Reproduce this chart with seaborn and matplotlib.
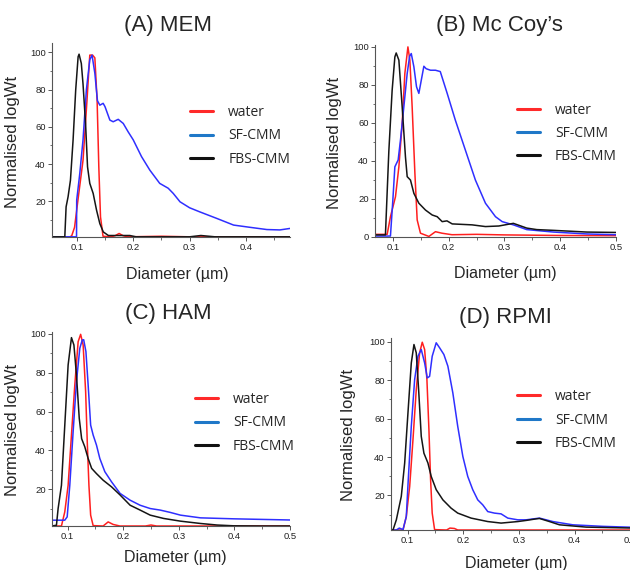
import numpy as np
import pandas as pd
import matplotlib
matplotlib.use("Agg")
from matplotlib import pyplot as plt
from matplotlib.lines import Line2D
from matplotlib.ticker import MultipleLocator
import seaborn as sns

# Curves (diameter in um, normalised logWt)

# (A) MEM
mem_water_x = [0.056, 0.088, 0.091, 0.096, 0.102, 0.111, 0.118, 0.123, 0.128, 0.132, 0.136, 0.139, 0.142,
               0.1465, 0.160, 0.168, 0.175, 0.182, 0.19, 0.25, 0.30, 0.478]
mem_water_y = [0.9, 0.9, 1.5, 6, 20.6, 42, 74, 98.5, 98.5, 97, 74, 38.5, 11.6,
               1.2, 0.9, 1.5, 2.7, 1.5, 0.9, 1.2, 0.9, 0.9]
mem_sf_x = [0.056, 0.0995, 0.0998, 0.1053, 0.111, 0.117, 0.123, 0.127, 0.132, 0.1366, 0.1408, 0.1467, 0.150,
            0.1586, 0.1645, 0.1734, 0.1823, 0.191, 0.2, 0.2147, 0.2295, 0.247, 0.262, 0.271, 0.283, 0.30,
            0.318, 0.348, 0.378, 0.407, 0.437, 0.46, 0.478]
mem_sf_y = [0.9, 0.9, 20.6, 35, 53, 80, 96, 98.5, 88.7, 74, 71.6, 72.6, 70.8,
            63.6, 62.7, 64, 61.8, 57.3, 53, 44, 36.7, 29.6, 27, 24.2, 19.7, 16.5,
            14.3, 10.8, 7.2, 6, 4.8, 4.6, 5.4]
mem_fbs_x = [0.056, 0.0787, 0.081, 0.0845, 0.0887, 0.0934, 0.098, 0.1023, 0.104, 0.108, 0.111, 0.1155, 0.119,
             0.123, 0.129, 0.135, 0.1408, 0.147, 0.156, 0.175, 0.194, 0.205, 0.30, 0.32, 0.345, 0.478]
mem_fbs_y = [0.9, 0.9, 17, 22.4, 31.3, 53, 79.7, 97.6, 99, 94, 83, 61.8, 38.5,
             29.6, 24.2, 15.2, 8, 3.5, 1.6, 1.6, 1.6, 0.9, 0.9, 1.6, 0.9, 0.9]

# (B) Mc Coy's
mccoy_water_x = [0.068, 0.0898, 0.0957, 0.1047, 0.1108, 0.1167, 0.1215, 0.127, 0.1305, 0.1346, 0.1395, 0.1436,
                 0.1495, 0.1646, 0.1764, 0.188, 0.206, 0.25, 0.30, 0.40, 0.5]
mccoy_water_y = [1.2, 1.2, 10.5, 21, 36.8, 59.7, 86, 100, 93, 68.4, 33.4, 8.8,
                 1.8, 0.1, 2.6, 1.8, 1.0, 1.2, 0.9, 0.6, 0.5]
mccoy_sf_x = [0.068, 0.0957, 0.100, 0.1036, 0.1095, 0.1137, 0.1197, 0.1257, 0.130, 0.133, 0.1377, 0.1424, 0.1466,
              0.151, 0.1556, 0.1597, 0.1675, 0.1764, 0.185, 0.1974, 0.212, 0.230, 0.248, 0.266, 0.284, 0.296,
              0.316, 0.340, 0.388, 0.448, 0.5]
mccoy_sf_y = [0.3, 0.3, 19.3, 36.8, 40.4, 51, 68.4, 86, 95, 96.5, 89.5, 79, 75.5,
              82.5, 89.8, 88.5, 87.7, 87.7, 87, 75.5, 61.4, 45.6, 29.8, 17.6, 10.5, 7.9,
              6.2, 3.7, 2.4, 1.4, 1.0]
mccoy_fbs_x = [0.068, 0.0867, 0.0928, 0.0987, 0.1036, 0.106, 0.1108, 0.1167, 0.1226, 0.1257, 0.1316, 0.1377,
               0.1466, 0.1585, 0.1705, 0.1795, 0.1884, 0.197, 0.2064, 0.242, 0.266, 0.290, 0.316, 0.340, 0.358,
               0.388, 0.448, 0.5]
mccoy_fbs_y = [0.9, 0.9, 45, 77, 94.7, 96.8, 93, 68.4, 42, 31.6, 29.8, 22.8,
               17.6, 14, 11.4, 10.5, 7.9, 8.3, 6.7, 6.2, 5.3, 5.6, 7, 4.5, 3.7,
               3.3, 2.4, 2.2]

# (C) HAM
ham_water_x = [0.072, 0.089, 0.095, 0.101, 0.107, 0.113, 0.119, 0.1235, 0.128, 0.1325, 0.1354, 0.1384, 0.1415,
               0.146, 0.164, 0.173, 0.182, 0.194, 0.24, 0.25, 0.26, 0.5]
ham_water_y = [1.0, 1.0, 8.3, 22, 47.9, 73.7, 96, 99.8, 94.3, 70.2, 44.4, 22, 6.6,
               1.2, 1.0, 3.1, 1.8, 1.0, 1.0, 1.5, 1.0, 1.0]
ham_sf_x = [0.072, 0.095, 0.0993, 0.104, 0.110, 0.116, 0.122, 0.1264, 0.129, 0.133, 0.137, 0.1415, 0.146, 0.152,
            0.158, 0.167, 0.179, 0.1944, 0.2125, 0.2305, 0.2486, 0.2666, 0.2847, 0.303, 0.339, 0.399, 0.5]
ham_sf_y = [4, 4, 5.7, 22, 49.6, 75.4, 92.6, 96.9, 97, 90.9, 73.7, 53, 47.9, 42.7,
            35.8, 29, 23.8, 17.8, 14.3, 11.7, 10, 9.2, 8, 6.6, 5.2, 4.7, 4.1]
ham_fbs_x = [0.072, 0.080, 0.083, 0.089, 0.095, 0.101, 0.107, 0.1114, 0.116, 0.121, 0.1253, 0.131, 0.137, 0.1433,
             0.152, 0.164, 0.179, 0.1944, 0.2125, 0.2305, 0.2486, 0.2726, 0.303, 0.339, 0.369, 0.399, 0.45, 0.5]
ham_fbs_y = [1.0, 1.4, 10, 22, 53, 84, 98.1, 94.3, 78.8, 56.5, 46, 41.8, 35.8, 30.7,
             28, 24.6, 21.2, 17, 11.7, 9.2, 6.6, 4.9, 3.5, 2.3, 1.5, 1.1, 1.0, 1.0]

# (D) RPMI
rpmi_water_x = [0.07, 0.0916, 0.0975, 0.1036, 0.1095, 0.1154, 0.1215, 0.1262, 0.1305, 0.1346, 0.1382, 0.1412,
                0.1441, 0.1484, 0.170, 0.176, 0.184, 0.190, 0.507]
rpmi_water_y = [2, 2, 9, 24.7, 49, 75, 94.3, 99.8, 96, 80.3, 54.3, 28.2,
                10.8, 2.2, 2, 3, 2.8, 2, 2]
rpmi_sf_x = [0.07, 0.0796, 0.085, 0.0916, 0.0975, 0.101, 0.1065, 0.1125, 0.1185, 0.1244, 0.1305, 0.1352, 0.1394,
             0.1441, 0.1513, 0.1574, 0.1651, 0.1723, 0.1812, 0.190, 0.1992, 0.208, 0.217, 0.226, 0.235, 0.244,
             0.256, 0.268, 0.280, 0.298, 0.313, 0.337, 0.361, 0.397, 0.451, 0.507]
rpmi_sf_y = [2, 2, 3, 2.2, 9, 28, 56, 80.3, 92.5, 96, 89, 81.2, 82,
             92.5, 99.5, 96.9, 93.4, 87.3, 73.4, 56, 40.3, 29.9, 23, 17.7, 15.1, 11.6,
             10.8, 10.4, 8.2, 7.3, 7.3, 8.2, 6.4, 4.7, 3.9, 3.4]
rpmi_fbs_x = [0.07, 0.0736, 0.0796, 0.0885, 0.0946, 0.1005, 0.1065, 0.1113, 0.1154, 0.1197, 0.1244, 0.1292,
              0.1364, 0.1423, 0.1513, 0.1633, 0.178, 0.190, 0.214, 0.244, 0.268, 0.298, 0.3134, 0.331, 0.337,
              0.355, 0.373, 0.421, 0.507]
rpmi_fbs_y = [2, 2, 7.3, 19.5, 36.9, 63, 89, 98.6, 94.3, 75, 50.8, 42, 36.9, 29.9, 23, 17.7, 13.4, 10.8,
              8.2, 6.4, 5.6, 6.4, 7, 7.8, 8, 6.4, 4.7, 3.5, 3]

samples = ["water", "SF-CMM", "FBS-CMM"]
line_colors = {"water": "#ff1f1f", "SF-CMM": "#2f2fff", "FBS-CMM": "#151515"}
legend_colors = ["#ff2a2a", "#1f78c8", "#111111"]

panels = [
    {"title": "(A) MEM", "curves": [(mem_water_x, mem_water_y), (mem_sf_x, mem_sf_y), (mem_fbs_x, mem_fbs_y)],
     "rect": [52, 43, 290, 237], "xlim": (0.056, 0.478), "ylim": (0.8, 105),
     "title_x": 0.487, "title_pad": 8.6, "ylab": (-0.134, 0.49), "xlab": (0.525, -0.153), "leg": (0.58, 0.68)},
    {"title": "(B) Mc Coy\u2019s", "curves": [(mccoy_water_x, mccoy_water_y), (mccoy_sf_x, mccoy_sf_y),
                                          (mccoy_fbs_x, mccoy_fbs_y)],
     "rect": [375, 45, 616, 237], "xlim": (0.068, 0.5), "ylim": (-0.2, 101),
     "title_x": 0.515, "title_pad": 10, "ylab": (-0.138, 0.49), "xlab": (0.54, -0.153), "leg": (0.588, 0.70)},
    {"title": "(C) HAM", "curves": [(ham_water_x, ham_water_y), (ham_sf_x, ham_sf_y), (ham_fbs_x, ham_fbs_y)],
     "rect": [52, 332, 290, 526], "xlim": (0.072, 0.5), "ylim": (1, 101),
     "title_x": 0.49, "title_pad": 9, "ylab": (-0.134, 0.495), "xlab": (0.518, -0.124), "leg": (0.60, 0.69)},
    {"title": "(D) RPMI", "curves": [(rpmi_water_x, rpmi_water_y), (rpmi_sf_x, rpmi_sf_y), (rpmi_fbs_x, rpmi_fbs_y)],
     "rect": [391, 338, 634, 530], "xlim": (0.07, 0.507), "ylim": (2, 102),
     "title_x": 0.469, "title_pad": 10.6, "ylab": (-0.145, 0.495), "xlab": (0.517, -0.138), "leg": (0.517, 0.733)},
]

sns.set_style("ticks")
plt.rcParams["font.family"] = ["Liberation Sans", "DejaVu Sans"]

W, H = 630, 570
fig = plt.figure(figsize=(W / 100, H / 100), dpi=100)

for p in panels:
    x0, y0, x1, y1 = p["rect"]
    ax = fig.add_axes([x0 / W, 1 - y1 / H, (x1 - x0) / W, (y1 - y0) / H])

    frames = []
    for name, (xs, ys) in zip(samples, p["curves"]):
        frames.append(pd.DataFrame({"diameter": xs, "logwt": ys, "sample": name}))
    df = pd.concat(frames, ignore_index=True)
    sns.lineplot(data=df, x="diameter", y="logwt", hue="sample", palette=line_colors,
                 estimator=None, sort=False, linewidth=1.1, legend=False, ax=ax)

    ax.set_xlim(*p["xlim"])
    ax.set_ylim(*p["ylim"])
    ax.xaxis.set_major_locator(MultipleLocator(0.1))
    ax.xaxis.set_minor_locator(MultipleLocator(0.05))
    ax.yaxis.set_major_locator(MultipleLocator(20))
    ax.yaxis.set_minor_locator(MultipleLocator(10))
    ax.tick_params(which="major", length=3, width=0.7, color="#555555", labelsize=6.8, pad=1.5,
                   labelcolor="#222222")
    ax.tick_params(which="minor", length=1.8, width=0.6, color="#555555")
    for s in ["top", "right"]:
        ax.spines[s].set_visible(False)
    for s in ["left", "bottom"]:
        ax.spines[s].set_color("#555555")
        ax.spines[s].set_linewidth(0.8)

    ax.set_title(p["title"], fontsize=16, x=p["title_x"], pad=p["title_pad"])
    ax.set_xlabel("Diameter (\u00b5m)", fontsize=11.5)
    ax.set_ylabel("Normalised logWt", fontsize=12)
    ax.xaxis.set_label_coords(*p["xlab"])
    ax.yaxis.set_label_coords(*p["ylab"])

    handles = [Line2D([], [], color=c, linewidth=2.2) for c in legend_colors]
    ax.legend(handles, samples, loc="upper left", bbox_to_anchor=p["leg"], frameon=False,
              borderaxespad=0, borderpad=0, handlelength=1.65, handletextpad=1.1,
              labelspacing=0.6, prop={"family": "Open Sans", "size": 10})

fig.savefig("out.png", dpi=100)
plt.close()
